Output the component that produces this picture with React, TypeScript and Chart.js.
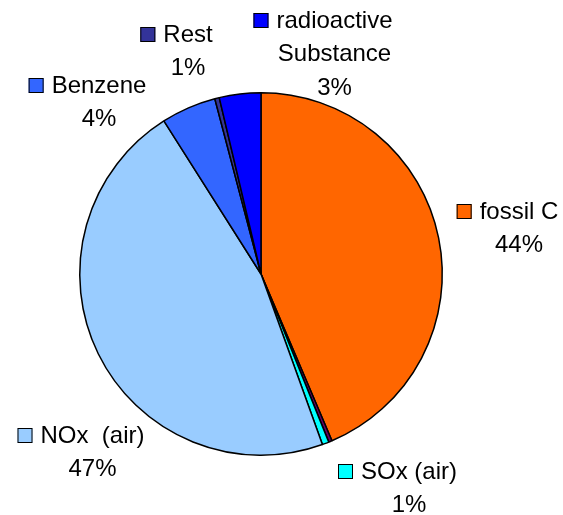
import React, { useEffect, useRef } from "react";
import { Chart, registerables } from "chart.js";

Chart.register(...registerables);

const categories = ["fossil C", "other", "SOx (air)", "NOx  (air)", "Benzene", "Rest", "radioactive\nSubstance"];
const values = [43.6, 0.3, 0.6, 46.5, 4.9, 0.4, 3.7];
const percentLabels = ["44%", "", "1%", "47%", "4%", "1%", "3%"];
const colors = ["#FF6600", "#660066", "#00FFFF", "#99CCFF", "#3366FF", "#333399", "#0000FF"];

// layout: text centre x and first baseline y for each label (null = no label)
const LABEL_POS: (null | [number, number])[] = [
  [519, 219],
  null,
  [409, 479],
  [92.5, 443],
  [99, 93],
  [188, 42],
  [334.5, 28],
];

const labelPlugin = {
  id: "outerLabels",
  afterDraw(chart: any) {
    const ctx = chart.ctx;
    ctx.save();
    ctx.font = "24px 'Liberation Sans', Arial, sans-serif";
    ctx.fillStyle = "#000";
    ctx.textBaseline = "alphabetic";
    ctx.textAlign = "center";
    const lh = 33.3;
    categories.forEach((cat, i) => {
      const pos = LABEL_POS[i];
      if (!pos) return;
      const [cx, by] = pos;
      const lines = cat.split("\n").concat([percentLabels[i]]);
      lines.forEach((ln, j) => {
        ctx.fillText(ln, cx, by + j * lh);
      });
      const w = ctx.measureText(lines[0]).width;
      const kx = cx - w / 2 - 8 - 15;
      const ky = by - 15;
      ctx.fillStyle = colors[i];
      ctx.fillRect(kx, ky, 15, 15);
      ctx.strokeStyle = "#000";
      ctx.lineWidth = 1;
      ctx.strokeRect(kx + 0.5, ky + 0.5, 14, 14);
      ctx.fillStyle = "#000";
    });
    ctx.restore();
  },
};

export default function App() {
  const ref = useRef<HTMLCanvasElement>(null);
  useEffect(() => {
    if (!ref.current) return;
    const chart = new Chart(ref.current, {
      type: "pie",
      data: {
        labels: categories,
        datasets: [
          {
            data: values,
            backgroundColor: colors,
            borderColor: "#000",
            borderWidth: 1.5,
          },
        ],
      },
      options: {
        animation: false,
        responsive: false,
        events: [],
        layout: { padding: { left: 79, right: 120, top: 92, bottom: 59 } },
        plugins: { legend: { display: false }, tooltip: { enabled: false } },
      },
      plugins: [labelPlugin],
    });
    return () => chart.destroy();
  }, []);
  return (
    <div style={{ position: "absolute", left: 0, top: 0, width: 563, height: 515, background: "#fff" }}>
      <canvas ref={ref} width={563} height={515} style={{ width: 563, height: 515 }} />
    </div>
  );
}
